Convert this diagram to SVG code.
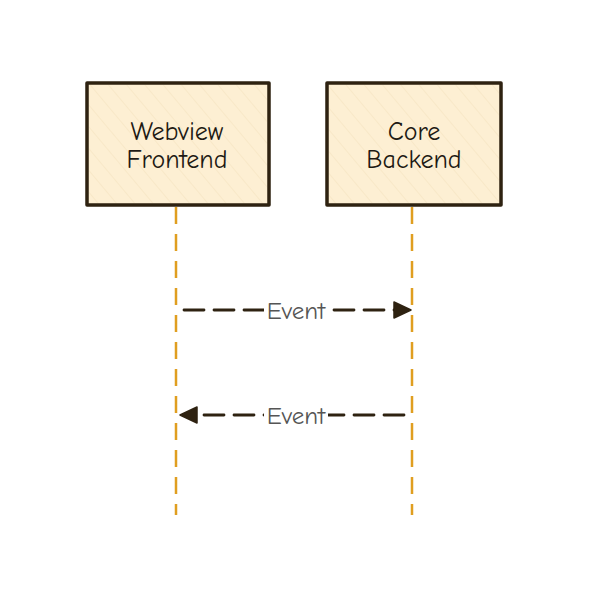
<svg xmlns="http://www.w3.org/2000/svg" width="604" height="589" viewBox="0 0 604 589">
<style>
.box{fill:#fdefd3;stroke:#2e2211;stroke-width:3.5;stroke-linejoin:round}
.life{stroke:#e09e20;stroke-width:2.5;stroke-dasharray:17 10;fill:none}
.msg{stroke:#2e2211;stroke-width:2.8;stroke-dasharray:20 10;fill:none;stroke-linecap:round}
.t{font-family:"Comic Neue","Liberation Sans",sans-serif;font-size:26px;fill:#1e1a14;text-anchor:middle}
.lbl{font-family:"Comic Neue","Liberation Sans",sans-serif;font-size:25px;fill:#555;text-anchor:middle}
.hach{stroke:#f0dcb4;stroke-width:1;opacity:0.7}
</style>
<defs>
<pattern id="h" width="14" height="14" patternUnits="userSpaceOnUse" patternTransform="rotate(-40)">
<line x1="0" y1="0" x2="0" y2="14" class="hach"/>
</pattern>
</defs>
<g id="connectors">
<line class="life" x1="176" y1="207" x2="176" y2="515"/>
<line class="life" x1="412" y1="207" x2="412" y2="515"/>
<line class="msg" x1="184" y1="310" x2="396" y2="310"/>
<path d="M394,302 L411,310 L394,318 Z" fill="#2e2211" stroke="#2e2211" stroke-width="1.5" stroke-linejoin="round"/>
<line class="msg" x1="404" y1="415" x2="196" y2="415"/>
<path d="M197,407 L180,415 L197,423 Z" fill="#2e2211" stroke="#2e2211" stroke-width="1.5" stroke-linejoin="round"/>
<rect x="264" y="298" width="64" height="26" fill="#fff"/>
<text class="lbl" x="296" y="319">Event</text>
<rect x="264" y="403" width="64" height="26" fill="#fff"/>
<text class="lbl" x="296" y="424">Event</text>
</g>
<g id="webview">
<rect class="box" x="87" y="83" width="182" height="122"/>
<rect x="89" y="85" width="178" height="118" fill="url(#h)"/>
<text class="t" x="177" y="140">Webview</text>
<text class="t" x="177" y="168">Frontend</text>
</g>
<g id="core">
<rect class="box" x="327" y="83" width="174" height="122"/>
<rect x="329" y="85" width="170" height="118" fill="url(#h)"/>
<text class="t" x="414" y="140">Core</text>
<text class="t" x="414" y="168">Backend</text>
</g>
</svg>
